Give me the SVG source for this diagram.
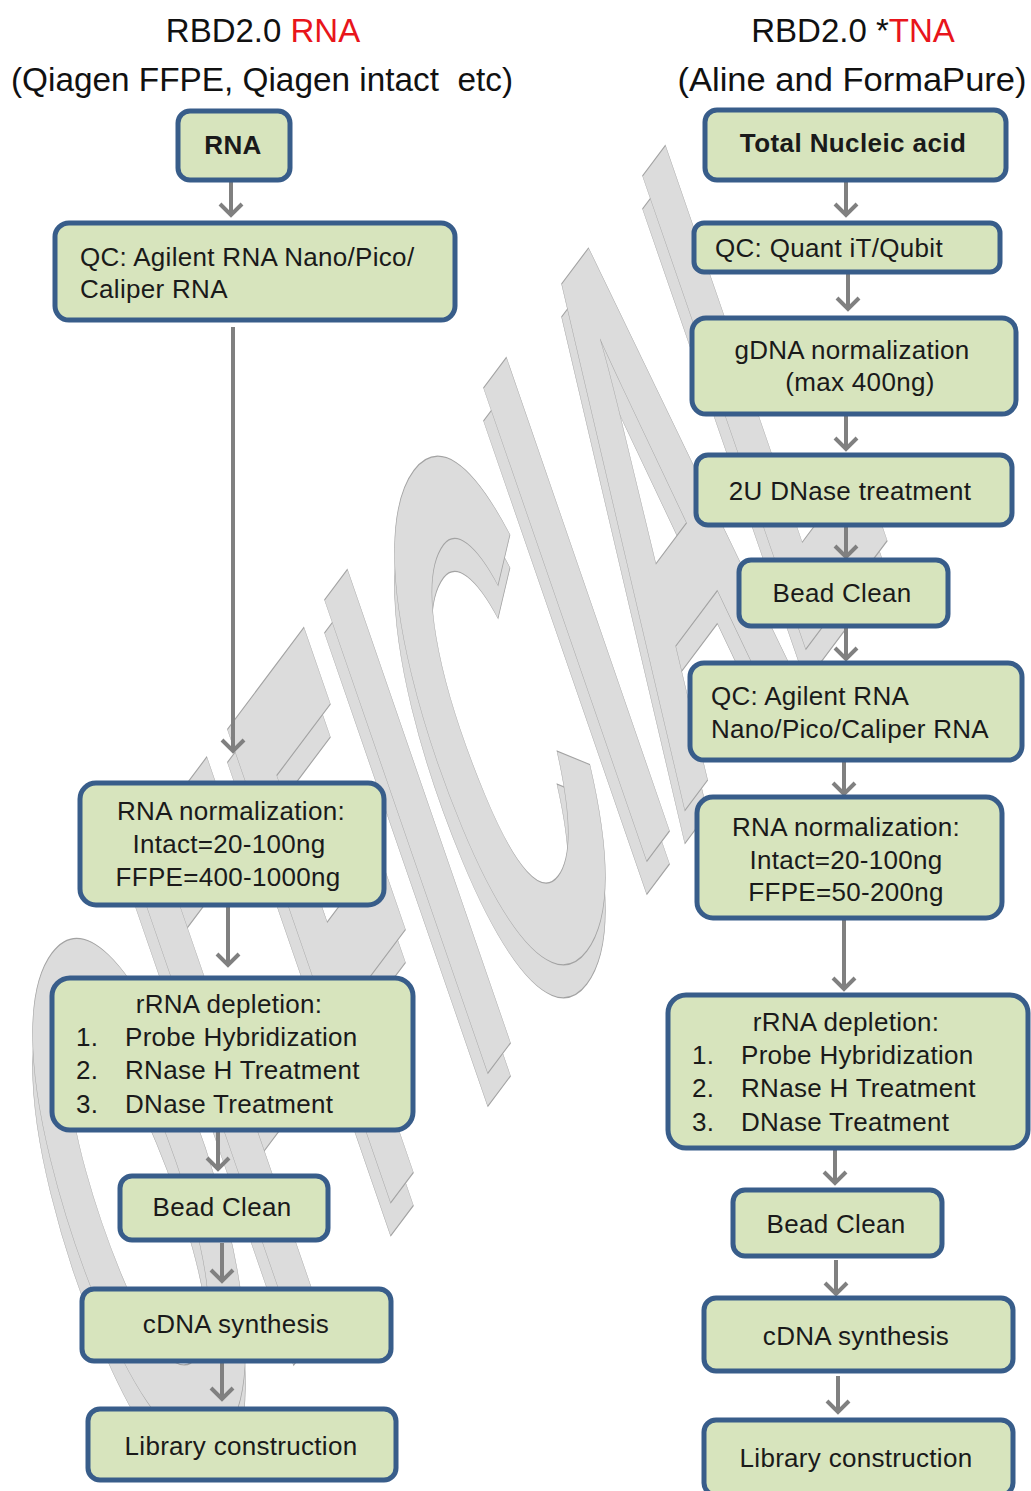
<svg xmlns="http://www.w3.org/2000/svg" width="1031" height="1491" viewBox="0 0 1031 1491">
<style>
.title{font-family:"Liberation Sans",Arial,sans-serif;font-size:33px;fill:#111;white-space:pre}
.red{fill:#e8151b}
.box{fill:#d7e4bd;stroke:#385d8a;stroke-width:5}
.t{font-family:"Liberation Sans",Arial,sans-serif;font-size:26px;letter-spacing:0.3px;fill:#1a1a1a}
.c{text-anchor:middle}
.b{font-weight:bold;letter-spacing:0.4px}
.wm{font-family:"Liberation Sans",Arial,sans-serif;font-weight:bold;font-style:italic;font-size:100px;fill:#dcdcdc;stroke:#a3a3a3;stroke-width:1;vector-effect:non-scaling-stroke}
.arr{stroke:#808080;stroke-width:4;fill:none}
</style>
<defs>
<marker id="ah" markerUnits="userSpaceOnUse" markerWidth="30" markerHeight="30" viewBox="-15 -15 30 30" refX="0" refY="0" orient="auto">
<path d="M-11,-11 L0,0 L-11,11" fill="none" stroke="#808080" stroke-width="4"/>
</marker>
</defs>
<rect width="1031" height="1491" fill="#ffffff"/>
<g id="watermark">
<text class="wm" x="0" y="0" transform="matrix(1.59,-2.12,2.68,6.47,167,1534)">OFFICIAL</text>
<text class="wm" x="0" y="0" transform="matrix(1.59,-2.12,2.68,6.47,167,1501)">OFFICIAL</text>
</g>
<g id="titles">
<text class="title c" x="263" y="42">RBD2.0 <tspan class="red">RNA</tspan></text>
<text class="title c" x="262" y="91" textLength="502" lengthAdjust="spacingAndGlyphs">(Qiagen FFPE, Qiagen intact  etc)</text>
<text class="title c" x="853" y="42">RBD2.0 *<tspan class="red">TNA</tspan></text>
<text class="title c" x="852" y="91" textLength="349" lengthAdjust="spacingAndGlyphs">(Aline and FormaPure)</text>
</g>
<g id="connectors" class="arr" marker-end="url(#ah)">
<line x1="231" y1="182" x2="231" y2="215"/>
<line x1="233" y1="327" x2="233" y2="751"/>
<line x1="228" y1="907" x2="228" y2="965"/>
<line x1="218" y1="1132" x2="218" y2="1169"/>
<line x1="222" y1="1243" x2="222" y2="1281"/>
<line x1="222" y1="1363" x2="222" y2="1399"/>
<line x1="846" y1="182" x2="846" y2="215"/>
<line x1="848" y1="274" x2="848" y2="309"/>
<line x1="846" y1="416" x2="846" y2="449"/>
<line x1="846" y1="527" x2="846" y2="557"/>
<line x1="846" y1="628" x2="846" y2="659"/>
<line x1="844" y1="762" x2="844" y2="794"/>
<line x1="844" y1="920" x2="844" y2="989"/>
<line x1="835" y1="1150" x2="835" y2="1183"/>
<line x1="836" y1="1260" x2="836" y2="1294"/>
<line x1="838" y1="1376" x2="838" y2="1412"/>
</g>
<g id="L-rna"><rect class="box" x="178" y="111" width="112" height="69" rx="12"/><text class="t b c" x="233" y="154">RNA</text></g>
<g id="L-qc"><rect class="box" x="55" y="223" width="400" height="97" rx="14"/><text class="t" x="80" y="266">QC: Agilent RNA Nano/Pico/</text><text class="t" x="80" y="298">Caliper RNA</text></g>
<g id="L-norm"><rect class="box" x="80" y="783" width="304" height="122" rx="16"/><text class="t c" x="231" y="820">RNA normalization:</text><text class="t c" x="229" y="853">Intact=20-100ng</text><text class="t c" x="228" y="886">FFPE=400-1000ng</text></g>
<g id="L-rrna"><rect class="box" x="52" y="978" width="361" height="152" rx="18"/><text class="t c" x="229" y="1013">rRNA depletion:</text><text class="t" x="76" y="1046">1.</text><text class="t" x="125" y="1046">Probe Hybridization</text><text class="t" x="76" y="1079">2.</text><text class="t" x="125" y="1079">RNase H Treatment</text><text class="t" x="76" y="1113">3.</text><text class="t" x="125" y="1113">DNase Treatment</text></g>
<g id="L-bead"><rect class="box" x="120" y="1176" width="208" height="64" rx="12"/><text class="t c" x="222" y="1216">Bead Clean</text></g>
<g id="L-cdna"><rect class="box" x="82" y="1289" width="309" height="72" rx="12"/><text class="t c" x="236" y="1333">cDNA synthesis</text></g>
<g id="L-lib"><rect class="box" x="88" y="1409" width="308" height="71" rx="12"/><text class="t c" x="241" y="1455">Library construction</text></g>
<g id="R-tna"><rect class="box" x="705" y="110" width="301" height="70" rx="12"/><text class="t b c" x="853" y="152">Total Nucleic acid</text></g>
<g id="R-qc1"><rect class="box" x="694" y="223" width="306" height="49" rx="10"/><text class="t" x="715" y="257">QC: Quant iT/Qubit</text></g>
<g id="R-gdna"><rect class="box" x="692" y="318" width="324" height="96" rx="14"/><text class="t c" x="852" y="359">gDNA normalization</text><text class="t c" x="860" y="391">(max 400ng)</text></g>
<g id="R-dnase"><rect class="box" x="696" y="455" width="316" height="70" rx="12"/><text class="t c" x="850" y="500">2U DNase treatment</text></g>
<g id="R-bead1"><rect class="box" x="739" y="560" width="209" height="66" rx="12"/><text class="t c" x="842" y="602">Bead Clean</text></g>
<g id="R-qc2"><rect class="box" x="690" y="663" width="332" height="97" rx="14"/><text class="t" x="711" y="705">QC: Agilent RNA</text><text class="t" x="711" y="738">Nano/Pico/Caliper RNA</text></g>
<g id="R-norm"><rect class="box" x="697" y="797" width="305" height="121" rx="16"/><text class="t c" x="846" y="836">RNA normalization:</text><text class="t c" x="846" y="869">Intact=20-100ng</text><text class="t c" x="846" y="901">FFPE=50-200ng</text></g>
<g id="R-rrna"><rect class="box" x="668" y="995" width="360" height="153" rx="18"/><text class="t c" x="846" y="1031">rRNA depletion:</text><text class="t" x="692" y="1064">1.</text><text class="t" x="741" y="1064">Probe Hybridization</text><text class="t" x="692" y="1097">2.</text><text class="t" x="741" y="1097">RNase H Treatment</text><text class="t" x="692" y="1131">3.</text><text class="t" x="741" y="1131">DNase Treatment</text></g>
<g id="R-bead2"><rect class="box" x="733" y="1190" width="209" height="66" rx="12"/><text class="t c" x="836" y="1233">Bead Clean</text></g>
<g id="R-cdna"><rect class="box" x="704" y="1298" width="309" height="73" rx="12"/><text class="t c" x="856" y="1345">cDNA synthesis</text></g>
<g id="R-lib"><rect class="box" x="704" y="1420" width="309" height="75" rx="12"/><text class="t c" x="856" y="1467">Library construction</text></g>
</svg>
